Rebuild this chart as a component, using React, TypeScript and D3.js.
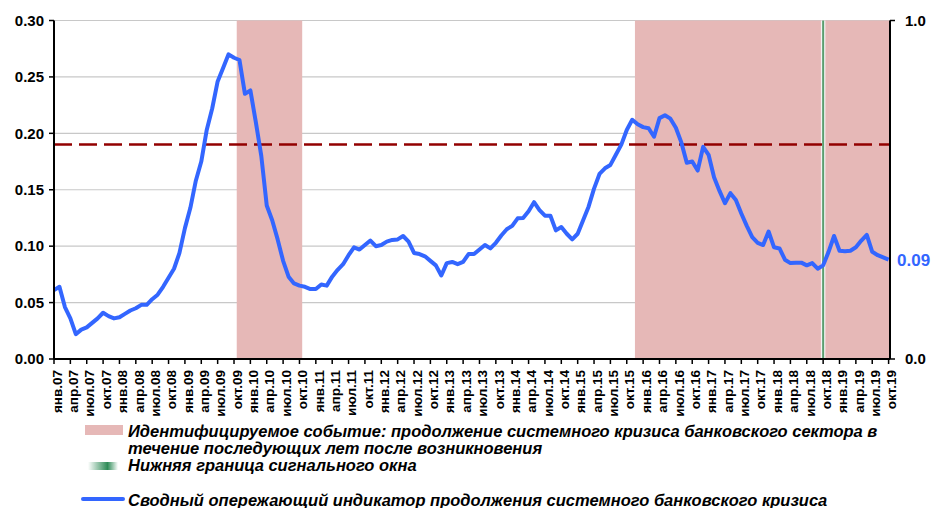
import * as React from "react"
import * as d3 from "d3"

// monthly values, янв.07 .. окт.19
const indicator = [
  0.061, 0.064, 0.046, 0.036, 0.022, 0.026, 0.028, 0.032, 0.036, 0.041, 0.038, 0.036,
  0.037, 0.040, 0.043, 0.045, 0.048, 0.048, 0.053, 0.057, 0.064, 0.072, 0.080, 0.094,
  0.116, 0.134, 0.158, 0.175, 0.203, 0.222, 0.246, 0.258, 0.270, 0.267, 0.265, 0.235,
  0.238, 0.210, 0.180, 0.136, 0.123, 0.106, 0.087, 0.073, 0.067, 0.065, 0.064, 0.062,
  0.062, 0.066, 0.065, 0.073, 0.079, 0.084, 0.092, 0.099, 0.097, 0.101, 0.105, 0.100,
  0.101, 0.104, 0.1055, 0.106, 0.109, 0.104, 0.094, 0.093, 0.091, 0.087, 0.083, 0.074,
  0.085, 0.086, 0.084, 0.086, 0.093, 0.093, 0.097, 0.101, 0.098, 0.103, 0.1095, 0.115,
  0.118, 0.1247, 0.125, 0.131, 0.139, 0.132, 0.127, 0.127, 0.114, 0.117, 0.111, 0.106,
  0.111, 0.123, 0.135, 0.151, 0.164, 0.169, 0.172, 0.181, 0.190, 0.203, 0.212, 0.208,
  0.2055, 0.2045, 0.197, 0.2135, 0.216, 0.213, 0.205, 0.192, 0.174, 0.175, 0.167, 0.188,
  0.181, 0.161, 0.149, 0.138, 0.147, 0.141, 0.129, 0.118, 0.108, 0.103, 0.101, 0.113,
  0.099, 0.098, 0.088, 0.085, 0.0854, 0.0854, 0.083, 0.085, 0.080, 0.083, 0.095, 0.109,
  0.096, 0.0955, 0.096, 0.099, 0.105, 0.110, 0.095, 0.092, 0.090, 0.088,
]
const quarterNames = ["янв", "апр", "июл", "окт"]
const leftTicks = [0, 0.05, 0.1, 0.15, 0.2, 0.25, 0.3]
const rightTicks = [0, 1]
const crisisPeriods = [["2009-11", "2010-10"], ["2015-12", "2019-10"]]
const signalWindowStart = "2018-10"
const threshold = 0.19
const legendItems = [
  ["Идентифицируемое событие: продолжение системного кризиса банковского сектора в", "течение последующих лет после возникновения"],
  ["Нижняя граница сигнального окна"],
  ["Сводный опережающий индикатор продолжения системного банковского кризиса"],
]

const FONT = "'Liberation Sans', Arial, sans-serif"

export default function App() {
  const months = d3.timeMonth.range(new Date(2007, 0, 1), new Date(2019, 10, 1))
  const fmt = d3.timeFormat("%Y-%m")
  const keys = months.map(fmt)

  const plotLeft = 54
  const plotRight = 890
  const top = 20.5
  const bottom = 359

  const x = d3.scalePoint<string>().domain(keys).range([plotLeft, 888.6])
  const step = x.step()
  const y = d3.scaleLinear().domain([0, 0.3]).range([bottom, top])
  const yR = d3.scaleLinear().domain([0, 1]).range([bottom, top])

  const line = d3.line<number>()
    .x((d, i) => x(keys[i])!)
    .y(d => y(d))

  const quarterKeys = keys.filter((k, i) => i % 3 === 0)
  const label = (k: string) => {
    const [yy, mm] = k.split("-")
    return `${quarterNames[(+mm - 1) / 3]}.${yy.slice(2)}`
  }

  const last = indicator[indicator.length - 1]
  const legendFont = 16.5

  return (
    <svg width={933} height={508} style={{ position: "absolute", left: 0, top: 0, fontFamily: FONT }}>
      <defs>
        <linearGradient id="green-sw" x1="0%" x2="100%" y1="0%" y2="0%">
          <stop offset="0%" stopColor="#ffffff" />
          <stop offset="65%" stopColor="#2e8b57" />
          <stop offset="100%" stopColor="#ffffff" />
        </linearGradient>
      </defs>
      <rect width={933} height={508} fill="#fff" />

      {/* grid */}
      {leftTicks.map(t => (
        <line key={t} x1={plotLeft} x2={plotRight} y1={y(t)} y2={y(t)} stroke="#c8c8c8" strokeWidth={1.2} />
      ))}

      {/* crisis shading */}
      {crisisPeriods.map(([s, e]) => {
        const x0 = x(s)! - step / 2
        const x1 = Math.min(x(e)! + step / 2, plotRight)
        return <rect key={s} x={x0} y={top} width={x1 - x0} height={bottom - top} fill="#e6b8b7" />
      })}

      {/* signal window */}
      <line x1={x(signalWindowStart)} x2={x(signalWindowStart)} y1={top} y2={bottom} stroke="#f4f4f4" strokeWidth={4.5} />
      <line x1={x(signalWindowStart)} x2={x(signalWindowStart)} y1={top} y2={bottom} stroke="#5a9e6f" strokeWidth={2} />

      {/* threshold */}
      <line x1={plotLeft} x2={plotRight} y1={y(threshold)} y2={y(threshold)}
        stroke="#920000" strokeWidth={2.5} strokeDasharray="18 7" />

      {/* indicator */}
      <path d={line(indicator)!} fill="none" stroke="#3366ff" strokeWidth={4} strokeLinejoin="round" />

      {/* left axis */}
      <line x1={plotLeft} x2={plotLeft} y1={top} y2={bottom} stroke="#000" strokeWidth={2} />
      {leftTicks.map(t => (
        <g key={t}>
          <line x1={plotLeft - 5} x2={plotLeft} y1={y(t)} y2={y(t)} stroke="#000" strokeWidth={1.5} />
          <text x={44} y={y(t)} dy="0.35em" textAnchor="end" fontSize={15} fontWeight="bold">{d3.format(".2f")(t)}</text>
        </g>
      ))}

      {/* right axis */}
      <line x1={plotRight} x2={plotRight} y1={top} y2={bottom} stroke="#000" strokeWidth={2} />
      {rightTicks.map(t => (
        <g key={t}>
          <line x1={plotRight} x2={plotRight + 5} y1={yR(t)} y2={yR(t)} stroke="#000" strokeWidth={1.5} />
          <text x={905} y={yR(t)} dy="0.35em" fontSize={15} fontWeight="bold">{d3.format(".1f")(t)}</text>
        </g>
      ))}
      <text x={897} y={y(last)} dy="0.35em" fontSize={17} fontWeight="bold" fill="#3366ff">{d3.format(".2f")(last)}</text>

      {/* x axis */}
      <line x1={plotLeft} x2={plotRight} y1={bottom} y2={bottom} stroke="#000" strokeWidth={2} />
      {quarterKeys.map(k => (
        <g key={k}>
          <line x1={x(k)} x2={x(k)} y1={bottom} y2={bottom + 5} stroke="#000" strokeWidth={1.5} />
          <text transform={`translate(${x(k)! + 3},370) rotate(-90)`} dy="0.35em" textAnchor="end"
            fontSize={13.5} fontWeight="bold">{label(k)}</text>
        </g>
      ))}

      {/* legend */}
      <rect x={85} y={425} width={38} height={10} fill="#e6b8b7" />
      <text x={128} y={437} fontSize={legendFont} fontWeight="bold" fontStyle="italic">{legendItems[0][0]}</text>
      <text x={128} y={454} fontSize={legendFont} fontWeight="bold" fontStyle="italic">{legendItems[0][1]}</text>
      <rect x={88} y={462} width={30} height={8} fill="url(#green-sw)" />
      <text x={128} y={471} fontSize={legendFont} fontWeight="bold" fontStyle="italic">{legendItems[1][0]}</text>
      <line x1={83} x2={123} y1={499} y2={499} stroke="#3366ff" strokeWidth={4} strokeLinecap="round" />
      <text x={128} y={506} fontSize={legendFont} fontWeight="bold" fontStyle="italic">{legendItems[2][0]}</text>
    </svg>
  )
}
